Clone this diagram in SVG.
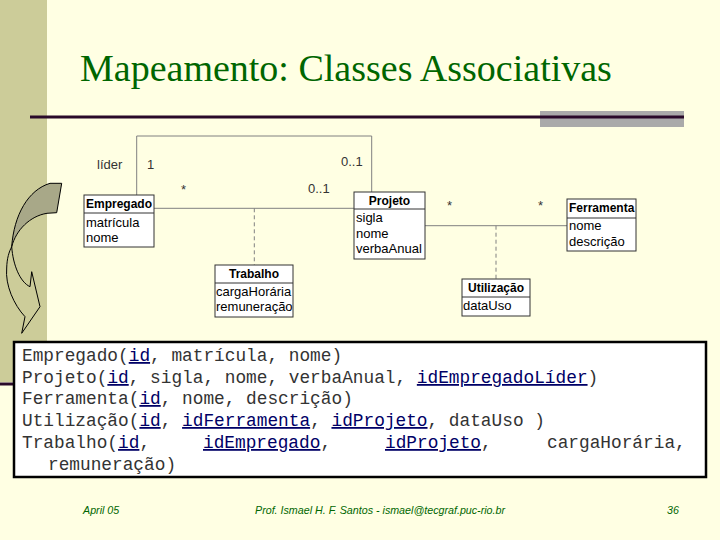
<svg xmlns="http://www.w3.org/2000/svg" width="720" height="540" viewBox="0 0 720 540">
<style>
.bg{fill:#FFFFE3}
.bar{fill:#CCCC99}
.title{font-family:"Liberation Serif","Times New Roman",serif;font-size:38px;fill:#006600}
.box{fill:#FFFFFF;stroke:#333333;stroke-width:1}
.sep{stroke:#333333;stroke-width:1}
.cn{font-family:"Liberation Sans",Arial,sans-serif;font-size:12px;font-weight:bold;fill:#000000}
.at{font-family:"Liberation Sans",Arial,sans-serif;font-size:13px;fill:#000000}
.lb{font-family:"Liberation Sans",Arial,sans-serif;font-size:13px;fill:#333333}
.ln{fill:none;stroke:#808080;stroke-width:1}
.dash{fill:none;stroke:#808080;stroke-width:1;stroke-dasharray:4,3}
.code{font-family:"Liberation Mono","Courier New",monospace;font-size:17.8px;fill:#333333}
.k{fill:#000066;text-decoration:underline}
.ft{font-family:"Liberation Sans",Arial,sans-serif;font-size:10.7px;font-style:italic;fill:#006600}
</style>
<rect class="bg" x="0" y="0" width="720" height="540"/>
<rect class="bar" x="0" y="0" width="47" height="382"/>
<line x1="0" y1="384" x2="20" y2="384" stroke="#2A0A2A" stroke-width="3"/>
<rect x="540" y="111" width="144" height="16" fill="#AAAAAA"/>
<line x1="30" y1="117" x2="684" y2="117" stroke="#2A0A2A" stroke-width="3"/>
<text class="title" x="80" y="81">Mapeamento: Classes Associativas</text>

<g id="arrow">
<path d="M50,183.3 L61.7,183.3 L56.7,212.7 L47,213.3 C30,216 16,230 11.7,246.7 C14,215 28,190 50,183.3 Z" fill="#A8A888" stroke="#000" stroke-width="1"/>
<path d="M11.7,246.7 C13,265 20,282 30,286.7 L31.7,271.7 L40,306.7 L21.7,333.3 L25,316.7 C14,305 5,285 6.7,268 C7,258 9,252 11.7,246.7 Z" fill="none" stroke="#000" stroke-width="1"/>
</g>

<g id="connectors">
<path class="ln" d="M136.7,195 V136 H371.7 V192"/>
<path class="ln" d="M154,208.3 H354"/>
<path class="dash" d="M254.3,208.3 V265"/>
<path class="ln" d="M425,225.7 H567"/>
<path class="dash" d="M496,225.7 V279"/>
<text class="lb" x="97" y="169">líder</text>
<text class="lb" x="147" y="169">1</text>
<text class="lb" x="341" y="166">0..1</text>
<text class="lb" x="181" y="194">*</text>
<text class="lb" x="308" y="193">0..1</text>
<text class="lb" x="447" y="210">*</text>
<text class="lb" x="538" y="210">*</text>
</g>

<g id="Empregado">
<rect class="box" x="84" y="195" width="70" height="52"/>
<line class="sep" x1="84" y1="213" x2="154" y2="213"/>
<text class="cn" x="86" y="208">Empregado</text>
<text class="at" x="86" y="227">matrícula</text>
<text class="at" x="86" y="242">nome</text>
</g>

<g id="Projeto">
<rect class="box" x="354" y="192" width="71" height="67"/>
<line class="sep" x1="354" y1="209" x2="425" y2="209"/>
<text class="cn" x="389.5" y="205" text-anchor="middle">Projeto</text>
<text class="at" x="356" y="222">sigla</text>
<text class="at" x="356" y="238">nome</text>
<text class="at" x="356" y="253">verbaAnual</text>
</g>

<g id="Ferramenta">
<rect class="box" x="567" y="199" width="69" height="52"/>
<line class="sep" x1="567" y1="218" x2="636" y2="218"/>
<text class="cn" x="569" y="212">Ferramenta</text>
<text class="at" x="569" y="230">nome</text>
<text class="at" x="569" y="246">descrição</text>
</g>

<g id="Trabalho">
<rect class="box" x="215" y="265" width="78" height="52"/>
<line class="sep" x1="215" y1="283" x2="293" y2="283"/>
<text class="cn" x="254" y="278" text-anchor="middle">Trabalho</text>
<text class="at" x="216" y="296">cargaHorária</text>
<text class="at" x="216" y="311">remuneração</text>
</g>

<g id="Utilizacao">
<rect class="box" x="462" y="279" width="68" height="37"/>
<line class="sep" x1="462" y1="297" x2="530" y2="297"/>
<text class="cn" x="496" y="292" text-anchor="middle">Utilização</text>
<text class="at" x="463" y="310">dataUso</text>
</g>

<g id="relations">
<rect x="14" y="342" width="692" height="135" fill="#FFFFFF" stroke="#000000" stroke-width="2.5"/>
<text class="code" x="22" y="361">Empregado(<tspan class="k">id</tspan>, matrícula, nome)</text>
<text class="code" x="22" y="383">Projeto(<tspan class="k">id</tspan>, sigla, nome, verbaAnual, <tspan class="k">idEmpregadoLíder</tspan>)</text>
<text class="code" x="22" y="404">Ferramenta(<tspan class="k">id</tspan>, nome, descrição)</text>
<text class="code" x="22" y="426">Utilização(<tspan class="k">id</tspan>, <tspan class="k">idFerramenta</tspan>, <tspan class="k">idProjeto</tspan>, dataUso )</text>
<text class="code" x="22" y="448">Trabalho(<tspan class="k">id</tspan>,</text>
<text class="code" x="203" y="448"><tspan class="k">idEmpregado</tspan>,</text>
<text class="code" x="385" y="448"><tspan class="k">idProjeto</tspan>,</text>
<text class="code" x="547" y="448">cargaHorária,</text>
<text class="code" x="48" y="470">remuneração)</text>
</g>

<g id="footer">
<text class="ft" x="83" y="514">April 05</text>
<text class="ft" x="255" y="514">Prof. Ismael H. F. Santos -  ismael@tecgraf.puc-rio.br</text>
<text class="ft" x="667" y="514">36</text>
</g>
</svg>
